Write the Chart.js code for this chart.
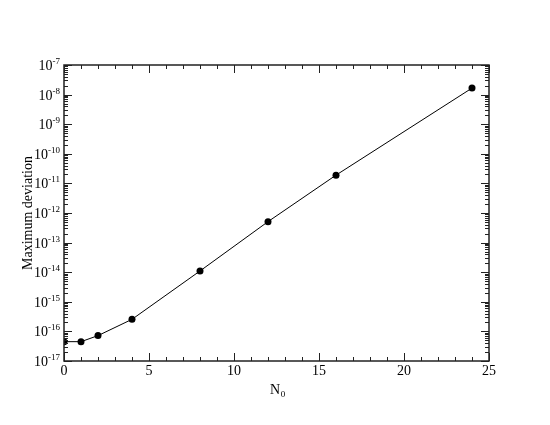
<!DOCTYPE html>
<html>
<head>
<meta charset="utf-8">
<script src="https://cdn.jsdelivr.net/npm/chart.js@4"></script>
<style>
  body { margin: 0; background: #fff; }
  canvas { display: block; }
</style>
</head>
<body>
<canvas id="deviation-chart" width="550" height="425"></canvas>
<script>
const nValues = [0, 1, 2, 4, 8, 12, 16, 24];
const maxDeviation = [4.5e-17, 4.5e-17, 7.2e-17, 2.56e-16, 1.1e-14, 5.1e-13, 1.9e-11, 1.66e-8];
const xTickLabels = [0, 5, 10, 15, 20, 25];
const yExponents = [-17, -16, -15, -14, -13, -12, -11, -10, -9, -8, -7];

const serif = '"Liberation Serif", "DejaVu Serif", serif';

// frame, inward ticks on all sides, tick labels and titles
const xmgrAxes = {
  id: "xmgrAxes",
  afterDraw(chart) {
    const c = chart.ctx;
    const area = chart.chartArea;
    const xs = chart.scales.x;
    const ys = chart.scales.y;
    c.save();
    c.strokeStyle = "#222";
    c.fillStyle = "#000";

    c.lineWidth = 1;
    // x ticks every unit, major every 5
    for (let v = 0; v <= 25; v++) {
      const px = Math.round(xs.getPixelForValue(v)) + 0.5;
      const len = v % 5 == 0 ? 8 : 4;
      c.beginPath();
      c.moveTo(px, area.bottom);
      c.lineTo(px, area.bottom - len);
      c.moveTo(px, area.top);
      c.lineTo(px, area.top + len);
      c.stroke();
    }
    // y ticks: decades major, 2..9 minor
    yExponents.forEach((e) => {
      for (let k = 1; k <= 9; k++) {
        const val = k * Math.pow(10, e);
        if (e == -7 && k > 1) break;
        const py = Math.round(ys.getPixelForValue(val)) + 0.5;
        const len = k == 1 ? 8 : 4;
        c.beginPath();
        c.moveTo(area.left, py);
        c.lineTo(area.left + len, py);
        c.moveTo(area.right, py);
        c.lineTo(area.right - len, py);
        c.stroke();
      }
    });

    c.lineWidth = 1.5;
    c.strokeRect(area.left, area.top, area.right - area.left, area.bottom - area.top);

    // x tick labels
    c.font = "14px " + serif;
    c.textAlign = "center";
    c.textBaseline = "top";
    xTickLabels.forEach((v) => {
      c.fillText(String(v), xs.getPixelForValue(v), area.bottom + 3);
    });

    // y tick labels 10^e
    c.textBaseline = "alphabetic";
    yExponents.forEach((e) => {
      const py = ys.getPixelForValue(Math.pow(10, e));
      const right = area.left - 4;
      c.font = "9px " + serif;
      const expText = String(e);
      const expW = c.measureText(expText).width;
      c.textAlign = "left";
      c.fillText(expText, right - expW, py - 1);
      c.font = "14px " + serif;
      c.textAlign = "right";
      c.fillText("10", right - expW, py + 5);
    });

    // x title N0
    c.font = "14px " + serif;
    c.textAlign = "center";
    c.fillText("N", 275, 394);
    c.font = "9px " + serif;
    c.fillText("0", 283, 397);

    // y title
    c.font = "14px " + serif;
    c.translate(32, (area.top + area.bottom) / 2);
    c.rotate(-Math.PI / 2);
    c.textAlign = "center";
    c.fillText("Maximum deviation", 0, 0);
    c.restore();
  },
};

new Chart(document.querySelector("#deviation-chart"), {
  type: "line",
  data: {
    datasets: [
      {
        data: nValues.map((n, i) => ({ x: n, y: maxDeviation[i] })),
        borderColor: "#000",
        borderWidth: 1,
        backgroundColor: "#000",
        pointRadius: 3.5,
        pointBorderWidth: 0,
        tension: 0,
      },
    ],
  },
  options: {
    responsive: false,
    animation: false,
    layout: { padding: { left: 64, right: 61, top: 65, bottom: 64 } },
    plugins: { legend: { display: false }, tooltip: { enabled: false } },
    scales: {
      x: { type: "linear", min: 0, max: 25, display: false },
      y: { type: "logarithmic", min: 1e-17, max: 1e-7, display: false },
    },
  },
  plugins: [xmgrAxes],
});
</script>
</body>
</html>
